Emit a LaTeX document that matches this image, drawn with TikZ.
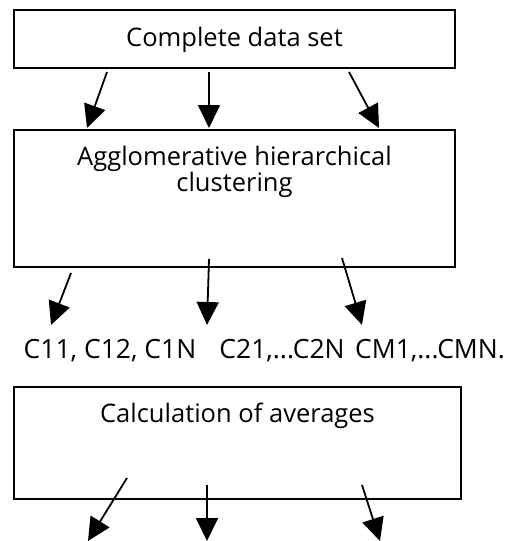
\documentclass[tikz,border=0pt]{standalone}
\usepackage{fontspec}
\setmainfont{Open Sans}
\usetikzlibrary{arrows.meta}
\begin{document}
\begin{tikzpicture}[x=1pt,y=-1pt,
  box/.style={draw, line width=1.8pt, rectangle, inner sep=0pt},
  lbl/.style={font=\fontsize{25.5}{26}\selectfont, inner sep=0pt, align=center},
  clu/.style={font=\fontsize{26.5}{28}\selectfont, inner sep=0pt},
  arr/.style={line width=1.8pt, -{Triangle[length=23pt,width=22pt]}}]
\useasboundingbox (0,0) rectangle (505,541);
% boxes
\node[box, minimum width=441pt, minimum height=58pt] (b1) at (234.5,39) {};
\node[lbl, anchor=base] (t1) at (234.5,46) {Complete data set};
\node[box, minimum width=441pt, minimum height=137pt] (b2) at (234.5,198.5) {};
\node[lbl, anchor=north] (t2) at (234.5,146) {Agglomerative hierarchical\\clustering};
\node[box, minimum width=447pt, minimum height=112pt] (b3) at (237.5,443) {};
\node[lbl, anchor=base] (t3) at (237.5,422) {Calculation of averages};
% cluster labels
\node[clu, anchor=base] (c1) at (110,358) {C11, C12, C1N};
\node[clu, anchor=base] (c2) at (282,358) {C21,...C2N};
\node[clu, anchor=base] (c3) at (430,358) {CM1,...CMN.};
% arrow end points
\coordinate (a1s) at (107,72);  \coordinate (a1e) at (87,128);
\coordinate (a2s) at (209,72);  \coordinate (a2e) at (209,128);
\coordinate (a3s) at (349,72);  \coordinate (a3e) at (379,128);
\coordinate (b1s) at (71,273);  \coordinate (b1e) at (51,325);
\coordinate (b2s) at (209,259); \coordinate (b2e) at (207,325);
\coordinate (b3s) at (342,258); \coordinate (b3e) at (362,325);
\coordinate (d1s) at (127,478); \coordinate (d1e) at (88,541);
\coordinate (d2s) at (207,485); \coordinate (d2e) at (207,541);
\coordinate (d3s) at (362,485); \coordinate (d3e) at (380,541);
\foreach \p in {a1,a2,a3,b1,b2,b3,d1,d2,d3}
  \draw[arr] (\p s) -- (\p e);
\end{tikzpicture}
\end{document}
